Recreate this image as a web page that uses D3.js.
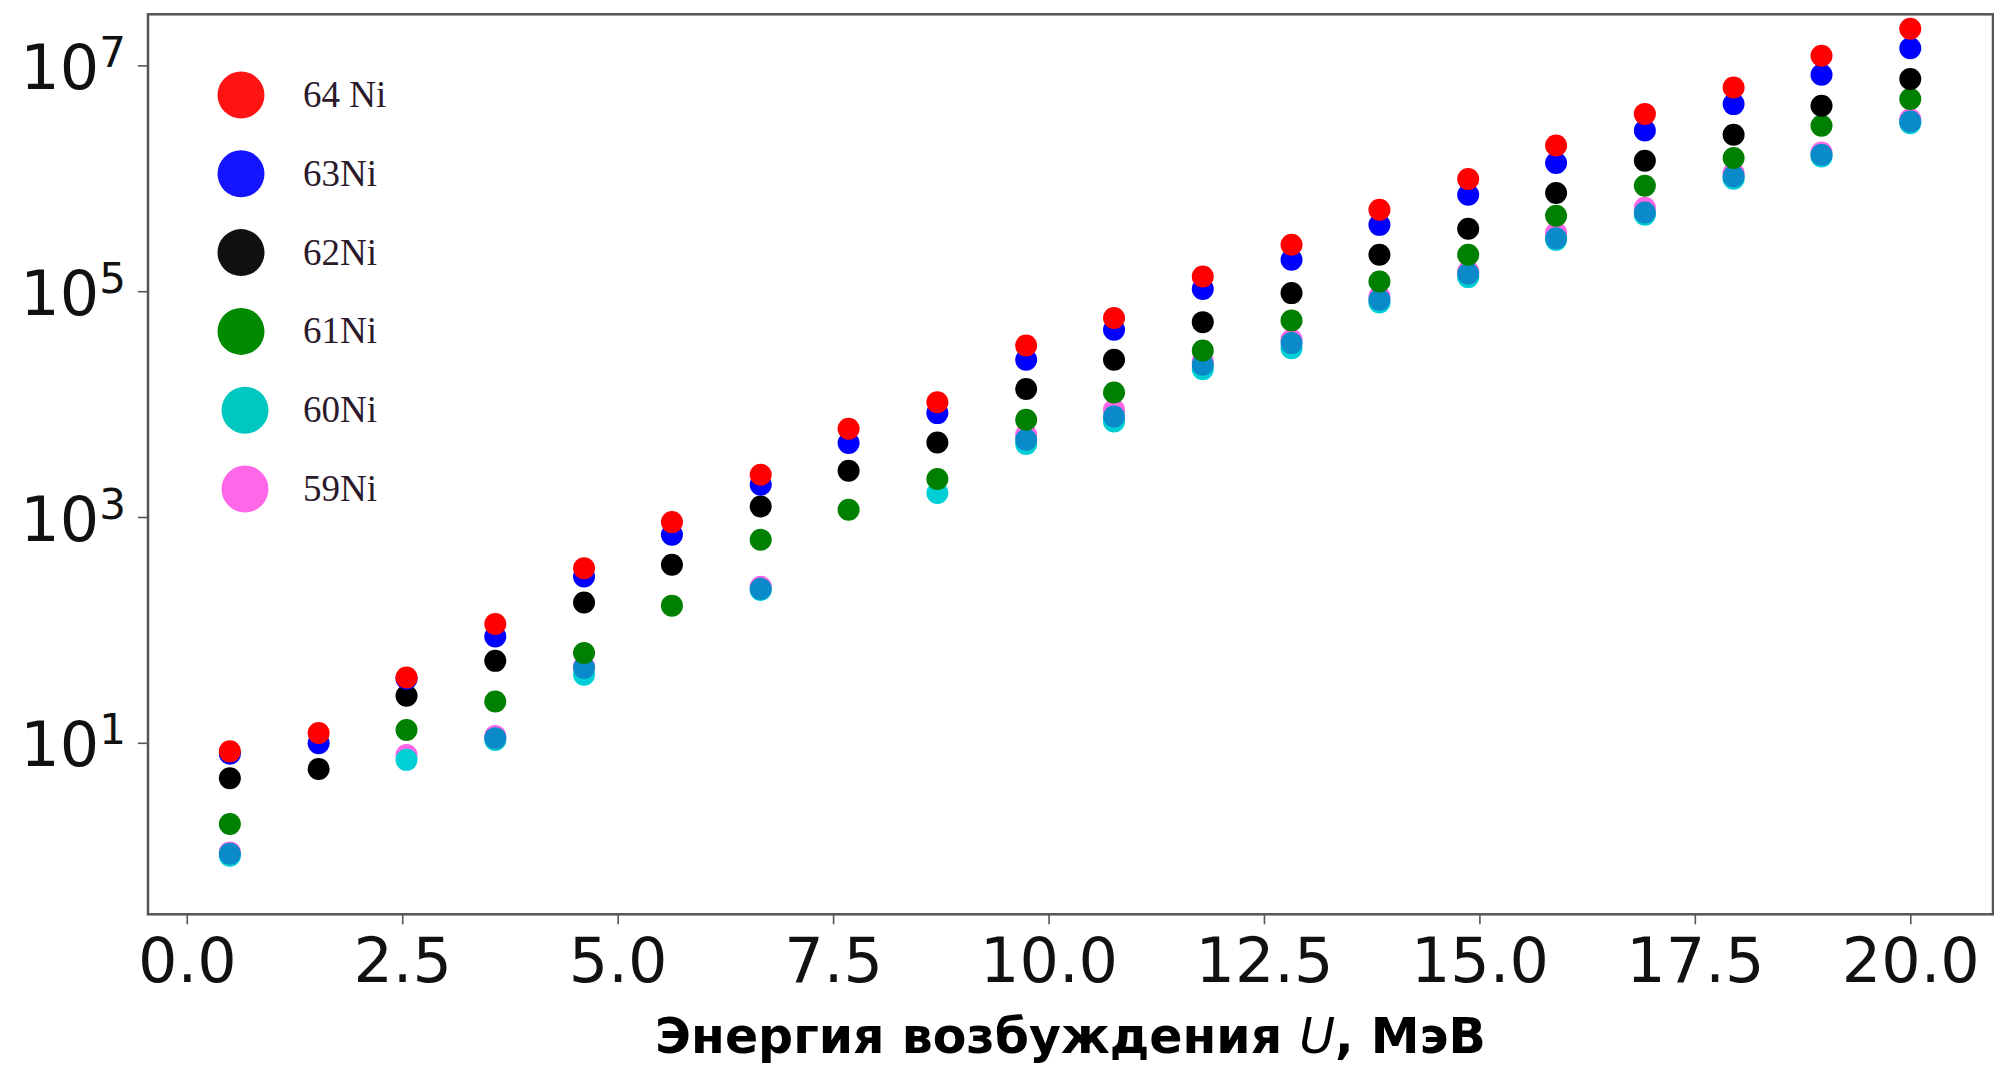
<!DOCTYPE html>
<html>
<head>
<meta charset="utf-8">
<script src="https://cdn.jsdelivr.net/npm/d3@7"></script>
<style>
  body { margin: 0; background: #fff; }
</style>
</head>
<body>
<script>
// Энергия возбуждения U, МэВ (20 точек)
var energia = [0.5, 1.53, 2.55, 3.58, 4.61, 5.63, 6.66, 7.68, 8.71, 9.74,
               10.76, 11.79, 12.82, 13.84, 14.87, 15.89, 16.92, 17.95, 18.97, 20.0];

// значения по изотопам (null = точки нет)
var ni64 = [8.4, 12.2, 37.9, 113, 352, 901, 2366, 6040, 10400, 33000,
            57800, 135000, 257600, 526000, 984000, 1.95e6, 3.72e6, 6.37e6, 1.216e7, 2.11e7];
var ni63 = [8.0, 9.9, 37.0, 87.5, 297, 695, 1928, 4520, 8320, 24660,
            45500, 104500, 189700, 387000, 714000, 1.366e6, 2.65e6, 4.54e6, 8.26e6, 1.42e7];
var ni62 = [4.86, 5.85, 26.1, 53.2, 175, 378, 1239, 2566, 4570, 13590,
            24660, 53200, 96200, 210000, 357000, 740000, 1.43e6, 2.43e6, 4.40e6, 7.57e6];
var ni61 = [1.91, null, 13.0, 23.2, 62.4, 164, 628, 1159, 2168, 7260,
            12680, 29860, 55000, 121800, 210000, 465000, 859000, 1.51e6, 2.92e6, 5.04e6];
var ni60 = [1.0, null, 7.06, 10.6, 40, null, 226, null, 1629, 4430,
            7020, 20400, 31300, 79400, 133300, 285000, 475000, 991000, 1.56e6, 3.08e6];
var ni59 = [1.07, null, 7.8, 11.5, 47.4, null, 241, null, null, 5350,
            8910, 23800, 37100, 89800, 149700, 329000, 548000, 1.11e6, 1.69e6, 3.34e6];
// серия без подписи в легенде (сине-голубые точки)
var sinPodpisi = [1.04, null, null, 11.0, 46.1, null, 231, null, null, 4830,
                  7760, 22300, 34700, 83900, 142600, 295000, 498000, 1.04e6, 1.615e6, 3.18e6];

var ticksX = [0, 2.5, 5, 7.5, 10, 12.5, 15, 17.5, 20];
var ticksY = [1e1, 1e3, 1e5, 1e7];
var etiquetas = ["64 Ni", "63Ni", "62Ni", "61Ni", "60Ni", "59Ni"];

var width = 1994;
var height = 1066;
var margen = { arriba: 14.3, abajo: 151.7, izquierda: 148, derecha: 1 };
var fuente = "'DejaVu Sans', sans-serif";

// orden de dibujo: de abajo hacia arriba
var series = [
    { datos: ni59, color: "#ff66e8" },
    { datos: ni60, color: "#00d0d6" },
    { datos: sinPodpisi, color: "#0a8ac8" },
    { datos: ni61, color: "#008000" },
    { datos: ni62, color: "#000000" },
    { datos: ni63, color: "#0000ff" },
    { datos: ni64, color: "#ff0000" }
];
var coloresLeyenda = ["#ff1414", "#1414ff", "#111111", "#008a00", "#00c8c0", "#ff66e8"];

var escalaX = d3.scaleLinear()
    .domain([-0.45, 20.96])
    .range([margen.izquierda, width - margen.derecha]);

var escalaY = d3.scaleLog()
    .domain([Math.pow(10, -0.519), Math.pow(10, 7.4526)])
    .range([height - margen.abajo, margen.arriba]);

var svg = d3.select("body")
    .append("svg")
    .attr("width", width)
    .attr("height", height)
    .style("font-family", fuente);

// puntos
series.forEach(function (s) {
    var puntos = energia.map(function (e, i) { return { x: e, y: s.datos[i] }; })
        .filter(function (d) { return d.y != null; });
    svg.append("g")
        .selectAll("circle")
        .data(puntos)
        .join("circle")
        .attr("cx", function (d) { return escalaX(d.x); })
        .attr("cy", function (d) { return escalaY(d.y); })
        .attr("r", 11)
        .attr("fill", s.color);
});

// eje X
var ejeX = d3.axisBottom(escalaX)
    .tickValues(ticksX)
    .tickFormat(d3.format(".1f"))
    .tickSize(10);
var gX = svg.append("g")
    .attr("transform", "translate(0," + (height - margen.abajo) + ")")
    .call(ejeX)
    .attr("font-family", fuente);
gX.select(".domain").remove();
gX.selectAll(".tick line").attr("stroke", "#555").attr("stroke-width", 1.6);
gX.selectAll(".tick text")
    .attr("y", 68)
    .attr("dy", 0)
    .attr("fill", "#111")
    .style("font-size", "62px");

// eje Y
var ejeY = d3.axisLeft(escalaY)
    .tickValues(ticksY)
    .tickFormat("")
    .tickSize(10);
var gY = svg.append("g")
    .attr("transform", "translate(" + margen.izquierda + ",0)")
    .call(ejeY)
    .attr("font-family", fuente);
gY.select(".domain").remove();
gY.selectAll(".tick line").attr("stroke", "#555").attr("stroke-width", 1.6);
gY.selectAll(".tick text").each(function (d) {
    var t = d3.select(this)
        .attr("x", -22)
        .attr("y", 23)
        .attr("dy", 0)
        .attr("text-anchor", "end")
        .attr("fill", "#111");
    t.append("tspan").style("font-size", "62px").text("10");
    t.append("tspan").attr("dy", -22).style("font-size", "42px").text(Math.round(Math.log10(d)));
});

// marco
svg.append("rect")
    .attr("x", margen.izquierda)
    .attr("y", margen.arriba)
    .attr("width", width - margen.derecha - margen.izquierda)
    .attr("height", height - margen.abajo - margen.arriba)
    .attr("fill", "none")
    .attr("stroke", "#555")
    .attr("stroke-width", 2.5);

// título del eje X
var tituloX = svg.append("text")
    .attr("x", (margen.izquierda + width - margen.derecha) / 2)
    .attr("y", 1053)
    .attr("text-anchor", "middle")
    .attr("fill", "#000")
    .style("font-size", "49px");
tituloX.append("tspan").style("font-weight", "bold").text("Энергия возбуждения ");
tituloX.append("tspan").style("font-style", "italic").text("U");
tituloX.append("tspan").style("font-weight", "bold").text(", МэВ");

// leyenda
var escalaLeyenda = d3.scaleLinear().domain([0, 5]).range([95, 489]);
var leyenda = svg.append("g");
leyenda.selectAll("circle")
    .data(etiquetas)
    .join("circle")
    .attr("cx", function (d, i) { return i < 4 ? 241 : 245; })
    .attr("cy", function (d, i) { return escalaLeyenda(i); })
    .attr("r", 23.5)
    .attr("fill", function (d, i) { return coloresLeyenda[i]; });
leyenda.selectAll("text")
    .data(etiquetas)
    .join("text")
    .attr("x", 303)
    .attr("y", function (d, i) { return escalaLeyenda(i) + 12; })
    .attr("fill", "#2a1a2a")
    .style("font-family", "'Liberation Serif', 'Times New Roman', serif")
    .style("font-size", "37px")
    .text(function (d) { return d; });
</script>
</body>
</html>
